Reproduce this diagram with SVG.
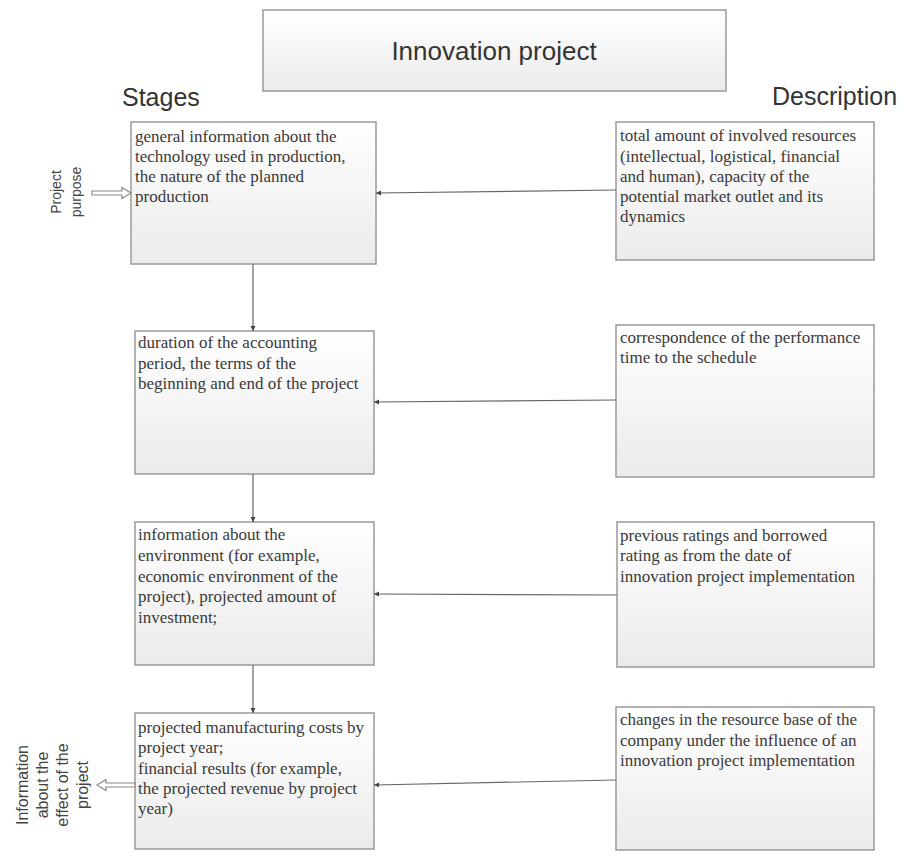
<svg xmlns="http://www.w3.org/2000/svg" width="907" height="857" viewBox="0 0 907 857">
<defs>
<linearGradient id="g" x1="0" y1="0" x2="0" y2="1">
<stop offset="0" stop-color="#ffffff"/>
<stop offset="1" stop-color="#ebebeb"/>
</linearGradient>
<marker id="ah" markerWidth="6" markerHeight="6" refX="5" refY="3" orient="auto" markerUnits="userSpaceOnUse">
<path d="M0,0.5 L5,3 L0,5.5 Z" fill="#444"/>
</marker>
<style>
.box{fill:url(#g);stroke:#9a9a9a;stroke-width:1.5}
.t{font-family:"Liberation Serif","Times New Roman",serif;font-size:17px;fill:#3a3a3a}
.h{font-family:"Liberation Sans",Arial,sans-serif;fill:#333}
.side{font-family:"Liberation Sans",Arial,sans-serif;fill:#444;text-anchor:middle}
.c{stroke:#666;stroke-width:1.2;fill:none;marker-end:url(#ah)}
.hollow{fill:#fff;stroke:#888;stroke-width:1.2}
</style>
</defs>
<rect width="907" height="857" fill="#fff"/>

<g id="title">
<rect class="box" x="263" y="10" width="463" height="81"/>
<text class="h" x="494" y="60" font-size="26" text-anchor="middle">Innovation project</text>
</g>
<g id="heading-stages"><text class="h" x="122" y="106" font-size="25">Stages</text></g>
<g id="heading-description"><text class="h" x="772" y="105" font-size="25">Description</text></g>

<g id="stage1">
<rect class="box" x="131" y="122" width="245" height="142"/>
<text class="t"><tspan x="135" y="142">general information about the</tspan><tspan x="135" y="162">technology used in production,</tspan><tspan x="135" y="182">the nature of the planned</tspan><tspan x="135" y="202">production</tspan></text>
</g>
<g id="desc1">
<rect class="box" x="616" y="122" width="258" height="138"/>
<text class="t"><tspan x="620" y="141">total amount of involved resources</tspan><tspan x="620" y="161.5">(intellectual, logistical, financial</tspan><tspan x="620" y="182">and human), capacity of the</tspan><tspan x="620" y="202">potential market outlet and its</tspan><tspan x="620" y="222">dynamics</tspan></text>
</g>

<g id="stage2">
<rect class="box" x="135" y="331" width="239" height="143"/>
<text class="t"><tspan x="138" y="348">duration of the accounting</tspan><tspan x="138" y="368.5">period, the terms of the</tspan><tspan x="138" y="389">beginning and end of the project</tspan></text>
</g>
<g id="desc2">
<rect class="box" x="616" y="325" width="258" height="152"/>
<text class="t"><tspan x="620" y="343">correspondence of the performance</tspan><tspan x="620" y="363">time to the schedule</tspan></text>
</g>

<g id="stage3">
<rect class="box" x="135" y="522" width="239" height="143"/>
<text class="t"><tspan x="138" y="540">information about the</tspan><tspan x="138" y="561">environment (for example,</tspan><tspan x="138" y="581.5">economic environment of the</tspan><tspan x="138" y="602">project), projected amount of</tspan><tspan x="138" y="622.5">investment;</tspan></text>
</g>
<g id="desc3">
<rect class="box" x="617" y="522" width="257" height="145"/>
<text class="t"><tspan x="620" y="541">previous ratings and borrowed</tspan><tspan x="620" y="561">rating as from the date of</tspan><tspan x="620" y="581.5">innovation project implementation</tspan></text>
</g>

<g id="stage4">
<rect class="box" x="135" y="713" width="239" height="136"/>
<text class="t"><tspan x="138" y="733">projected manufacturing costs by</tspan><tspan x="138" y="753">project year;</tspan><tspan x="138" y="773.5">financial results (for example,</tspan><tspan x="138" y="794">the projected revenue by project</tspan><tspan x="138" y="814">year)</tspan></text>
</g>
<g id="desc4">
<rect class="box" x="616" y="707" width="258" height="143"/>
<text class="t"><tspan x="620" y="725">changes in the resource base of the</tspan><tspan x="620" y="745.5">company under the influence of an</tspan><tspan x="620" y="766">innovation project implementation</tspan></text>
</g>

<g id="input-label">
<text class="side" font-size="14" transform="translate(61,192) rotate(-90)">Project</text>
<text class="side" font-size="14" transform="translate(81,192) rotate(-90)">purpose</text>
</g>
<g id="output-label">
<text class="side" font-size="16" transform="translate(28,785) rotate(-90)">Information</text>
<text class="side" font-size="16" transform="translate(48,785) rotate(-90)">about the</text>
<text class="side" font-size="16" transform="translate(68,785) rotate(-90)">effect of the</text>
<text class="side" font-size="16" transform="translate(88,785) rotate(-90)">project</text>
</g>

<g id="connectors">
<line class="c" x1="253" y1="264" x2="253" y2="331"/>
<line class="c" x1="253" y1="474" x2="253" y2="522"/>
<line class="c" x1="253" y1="665" x2="253" y2="713"/>
<line class="c" x1="616" y1="190" x2="376" y2="193"/>
<line class="c" x1="616" y1="400" x2="374" y2="402"/>
<line class="c" x1="617" y1="595" x2="374" y2="594"/>
<line class="c" x1="616" y1="780" x2="374" y2="785"/>
<polygon class="hollow" points="92,191 122,191 122,187.5 131,193 122,198.5 122,195 92,195"/>
<polygon class="hollow" points="135,783 106,783 106,779.5 97,785 106,790.5 106,787 135,787"/>
</g>
</svg>
